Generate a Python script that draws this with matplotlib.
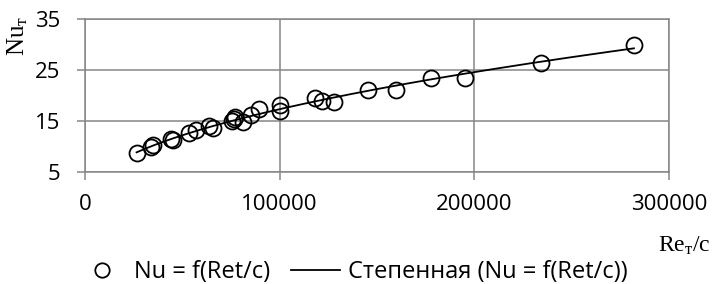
import numpy as np
import matplotlib
matplotlib.use("Agg")
import matplotlib.pyplot as plt

re_c = [26500, 33800, 34800, 44000, 45000, 53600, 57000, 63900, 65500,
        75300, 77000, 76700, 81300, 85100, 89500, 100100, 100100,
        118100, 121600, 128100, 145500, 160000, 177500, 195200, 234400, 282000]
nu = [8.8, 9.9, 10.2, 11.4, 11.2, 12.7, 13.2, 14.0, 13.7,
      15.0, 15.8, 15.3, 14.9, 16.2, 17.3, 18.1, 16.9,
      19.6, 19.0, 18.7, 21.1, 21.1, 23.5, 23.5, 26.3, 29.9]
x_ticks = [0, 100000, 200000, 300000]
y_ticks = [5, 15, 25, 35]
series_label = "Nu = f(Ret/c)"
trend_label = "Степенная (Nu = f(Ret/c))"

plt.rcParams['mathtext.fontset'] = 'custom'
plt.rcParams['mathtext.rm'] = 'Liberation Serif'
plt.rcParams['mathtext.it'] = 'Liberation Serif:italic'

fig = plt.figure(figsize=(7.13, 2.84), dpi=100)
ax = fig.add_axes([85/713, 1-172/284, (669-85)/713, (172-19)/284])

gray = '#868686'
x = np.array(re_c, dtype=float)
y = np.array(nu, dtype=float)
b, lna = np.polyfit(np.log(x), np.log(y), 1)
xs = np.linspace(x.min(), x.max(), 200)
ax.plot(xs, np.exp(lna) * xs**b, color='black', lw=1.3, label=trend_label, zorder=3)
ax.plot(x, y, 'o', ms=11.5, mfc='none', mec='black', mew=1.3, label=series_label, zorder=4)

ax.set_xlim(0, 300000)
ax.set_ylim(5, 35)
ax.set_xticks(x_ticks)
ax.set_yticks(y_ticks)
ax.grid(True, color=gray, lw=1.1)
ax.set_axisbelow(True)
for s in ax.spines.values():
    s.set_color(gray)
    s.set_linewidth(1.1)
ax.tick_params(axis='both', length=6, width=1.1, color=gray, labelsize=16)
ax.tick_params(axis='x', pad=10)
ax.tick_params(axis='y', pad=12)
for lab in ax.get_xticklabels() + ax.get_yticklabels():
    lab.set_family('Open Sans')

fig.text(18/713, 1-36/284, r'$\mathrm{Nu}_\mathrm{т}$', rotation=90, ha='center', va='center', fontsize=18)
fig.text(684/713, 1-245/284, r'$\mathrm{Re}_\mathrm{т}\mathrm{/c}$', ha='center', va='center', fontsize=17)

h, l = ax.get_legend_handles_labels()
leg = fig.legend([h[1], h[0]], [l[1], l[0]], loc='center', bbox_to_anchor=(352/713, 1-272/284),
                 ncol=2, frameon=False, prop={'family': 'Open Sans', 'size': 17},
                 handlelength=2.1, handletextpad=0.3, columnspacing=0.9, borderpad=0,
                 markerscale=0.9)

fig.savefig('out.png', dpi=100)
